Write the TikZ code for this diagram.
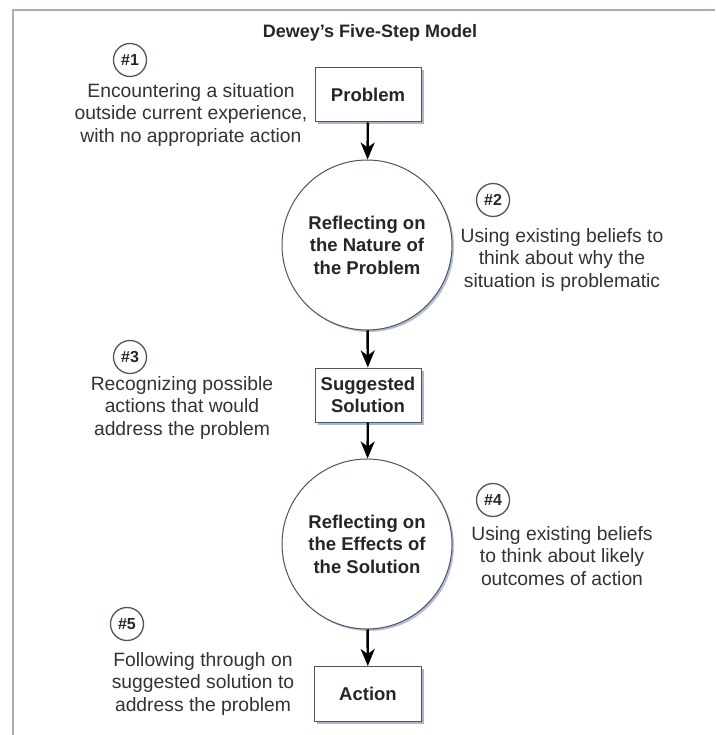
\documentclass[tikz,border=0pt]{standalone}
\usepackage{fontspec}
\setmainfont{Liberation Sans}
\usetikzlibrary{arrows.meta,shadows}
\definecolor{txt}{HTML}{333333}
\definecolor{edge}{HTML}{4A5566}
\definecolor{shade}{HTML}{A3AFC6}
\definecolor{frame}{HTML}{A8AEB8}
\begin{document}
\begin{tikzpicture}[x=1pt,y=-1pt,
  stepbox/.style={draw=edge,line width=1pt,fill=white,minimum width=106pt,minimum height=54pt,inner sep=0pt,
    font=\fontsize{18.5}{22}\selectfont\bfseries,text=black!85,align=center,
    drop shadow={shadow xshift=2.5pt,shadow yshift=-2.5pt,fill=shade,opacity=0.9}},
  reflect/.style={circle,draw=edge,line width=1pt,fill=white,minimum size=170pt,inner sep=0pt,
    font=\fontsize{18.5}{22.5}\selectfont\bfseries,text=black!85,align=center,
    drop shadow={shadow xshift=2pt,shadow yshift=-2pt,fill=shade,opacity=0.8}},
  numc/.style={circle,draw=edge,line width=1.3pt,fill=white,minimum size=33pt,inner sep=0pt,
    font=\fontsize{16}{16}\selectfont\bfseries,text=black!85},
  desc/.style={font=\fontsize{19.3}{22.5}\selectfont,text=txt,align=center},
  flow/.style={line width=2.4pt,black,-{Stealth[length=17pt,width=14pt,inset=5pt]}}]
\useasboundingbox (0,0) rectangle (715,735);
\fill[white] (0,0) rectangle (715,735);
\coordinate (ftl) at (13,10);
\coordinate (ftr) at (715,10);
\coordinate (fbl) at (13,735);
\draw[frame,line width=2pt] (fbl) -- (ftl) -- (ftr);

\node[font=\fontsize{18}{21}\selectfont\bfseries,text=black!85] (title) at (370,33) {Dewey’s Five-Step Model};

\node[stepbox] (prob) at (368,95) {Problem};
\node[reflect] (c1) at (367,245) {Reflecting on\\the Nature of\\the Problem};
\node[stepbox] (sugg) at (368,395) {Suggested\\Solution};
\node[reflect] (c2) at (367,544) {Reflecting on\\the Effects of\\the Solution};
\node[stepbox,minimum width=107pt,minimum height=55pt] (act) at (368,694) {Action};

\draw[flow] (prob) -- (c1);
\draw[flow] (c1) -- (sugg);
\draw[flow] (sugg) -- (c2);
\draw[flow] (c2) -- (act);

\node[numc] (n1) at (130,60) {\#1};
\node[numc] (n2) at (493,200) {\#2};
\node[numc] (n3) at (130,357) {\#3};
\node[numc] (n4) at (493,500) {\#4};
\node[numc] (n5) at (127,624) {\#5};

\node[desc] (d1) at (191,115) {Encountering a situation\\outside current experience,\\with no appropriate action};
\node[desc] (d2) at (562,260) {Using existing beliefs to\\think about why the\\situation is problematic};
\node[desc] (d3) at (182,408) {Recognizing possible\\actions that would\\address the problem};
\node[desc] (d4) at (562,556) {Using existing beliefs\\to think about likely\\outcomes of action};
\node[desc] (d5) at (203,684) {Following through on\\suggested solution to\\address the problem};
\end{tikzpicture}
\end{document}
